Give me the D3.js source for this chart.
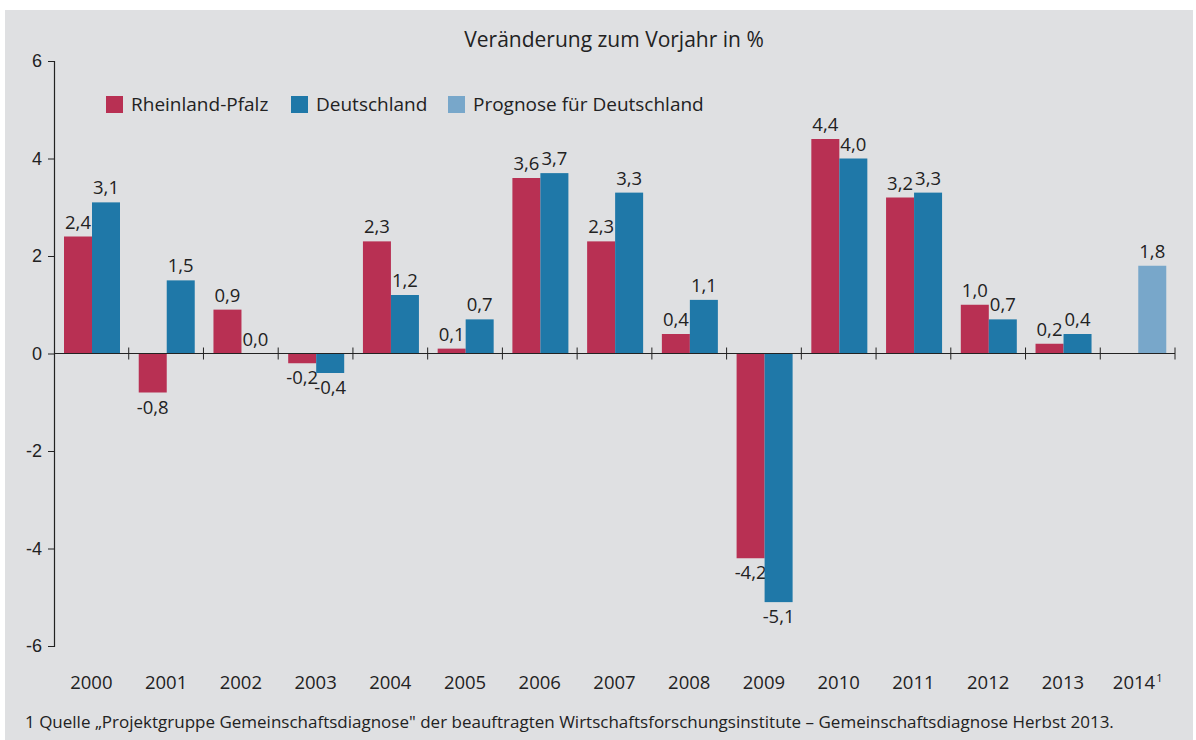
<!DOCTYPE html>
<html lang="de">
<head>
  <meta charset="UTF-8">
  <title>Veränderung zum Vorjahr in %</title>
  <script src="https://d3js.org/d3.v7.min.js"></script>
  <style>
    body { margin: 0; background: #fff; }
    svg { display: block; font-family: "Open Sans", Lato, sans-serif; }
    text { fill: #222; }
  </style>
</head>
<body>
  <svg width="1196" height="740"></svg>

  <script>
    const years      = ["2000","2001","2002","2003","2004","2005","2006","2007","2008","2009","2010","2011","2012","2013","2014"];
    const rlp        = [2.4, -0.8, 0.9, -0.2, 2.3, 0.1, 3.6, 2.3, 0.4, -4.2, 4.4, 3.2, 1.0, 0.2, null];
    const germany    = [3.1, 1.5, 0.0, -0.4, 1.2, 0.7, 3.7, 3.3, 1.1, -5.1, 4.0, 3.3, 0.7, 0.4, null];
    const forecast   = [null, null, null, null, null, null, null, null, null, null, null, null, null, null, 1.8];
    const yTicks     = [-6, -4, -2, 0, 2, 4, 6];
    const legendKeys = ["Rheinland-Pfalz", "Deutschland", "Prognose für Deutschland"];

    const colors = { rlp: "#b83053", de: "#1f78a8", fc: "#78a7ca" };

    const svg = d3.select("svg");

    svg.append("rect")
      .attr("x", 5).attr("y", 10)
      .attr("width", 1188).attr("height", 730)
      .attr("fill", "#dfe0e2");

    const x = d3.scaleBand().domain(years).range([54, 1175]);
    const y = d3.scaleLinear().domain([-6, 6]).range([646, 61]);
    const sub = d3.scaleBand().domain(["rlp", "de"]).range([10, 66]);

    // hyphen instead of unicode minus, comma decimal
    const fmt = v => (v < 0 ? "-" : "") + Math.abs(v).toFixed(1).replace(".", ",");

    // title
    svg.append("text")
      .attr("x", 614).attr("y", 47)
      .attr("text-anchor", "middle")
      .style("font-size", "21px")
      .text("Veränderung zum Vorjahr in %");

    // y axis
    const yAxis = svg.append("g")
      .attr("transform", "translate(54,0)")
      .call(d3.axisLeft(y).tickValues(yTicks).tickSize(6).tickPadding(6).tickFormat(d => (d < 0 ? "-" : "") + Math.abs(d)));
    yAxis.select(".domain").attr("stroke", "#222").attr("stroke-width", 1.2);
    yAxis.selectAll(".tick line").attr("stroke", "#222");
    yAxis.selectAll(".tick text").style("font-size", "18px").attr("fill", "#222").style("font-family", "inherit");

    // bars
    const series = [
      { key: "rlp", values: rlp, slot: "rlp", color: colors.rlp },
      { key: "de",  values: germany, slot: "de", color: colors.de },
      { key: "fc",  values: forecast, slot: "de", color: colors.fc }
    ];

    series.forEach(s => {
      const data = years.map((yr, i) => ({ yr, v: s.values[i] })).filter(d => d.v !== null);
      const g = svg.append("g");
      g.selectAll("rect").data(data).enter().append("rect")
        .attr("x", d => x(d.yr) + sub(s.slot))
        .attr("width", sub.bandwidth())
        .attr("y", d => y(Math.max(0, d.v)))
        .attr("height", d => Math.abs(y(d.v) - y(0)))
        .attr("fill", s.color);
      g.selectAll("text").data(data).enter().append("text")
        .attr("x", d => x(d.yr) + sub(s.slot) + sub.bandwidth() / 2)
        .attr("y", d => d.v < 0 ? y(d.v) + 21 : y(d.v) - 8)
        .attr("text-anchor", "middle")
        .style("font-size", "18.5px")
        .text(d => fmt(d.v));
    });

    // x axis at zero
    const xa = svg.append("g");
    xa.append("line")
      .attr("x1", 54).attr("x2", 1175)
      .attr("y1", y(0)).attr("y2", y(0))
      .attr("stroke", "#222").attr("stroke-width", 1.2);
    xa.selectAll("line.tk").data(years).enter().append("line")
      .attr("class", "tk")
      .attr("x1", d => x(d) + x.bandwidth()).attr("x2", d => x(d) + x.bandwidth())
      .attr("y1", y(0) - 6).attr("y2", y(0) + 6)
      .attr("stroke", "#222");

    const xl = svg.append("g").selectAll("text").data(years).enter().append("text")
      .attr("x", d => x(d) + x.bandwidth() / 2)
      .attr("y", 689)
      .attr("text-anchor", "middle")
      .style("font-size", "18.5px")
      .text(d => d);
    xl.filter(d => d === "2014").append("tspan")
      .attr("dy", -7).attr("dx", 1).style("font-size", "11px").text("1");

    // legend
    const legX = [106, 291, 448];
    const legColors = [colors.rlp, colors.de, colors.fc];
    const leg = svg.append("g").selectAll("g").data(legendKeys).enter().append("g")
      .attr("transform", (d, i) => `translate(${legX[i]},96)`);
    leg.append("rect").attr("width", 17).attr("height", 17).attr("fill", (d, i) => legColors[i]);
    leg.append("text").attr("x", 25).attr("y", 15).style("font-size", "19px").text(d => d);

    // footnote
    svg.append("text")
      .attr("x", 25).attr("y", 728)
      .style("font-size", "17px")
      .text("1 Quelle „Projektgruppe Gemeinschaftsdiagnose\" der beauftragten Wirtschaftsforschungsinstitute  – Gemeinschaftsdiagnose Herbst 2013.");
  </script>
</body>
</html>
